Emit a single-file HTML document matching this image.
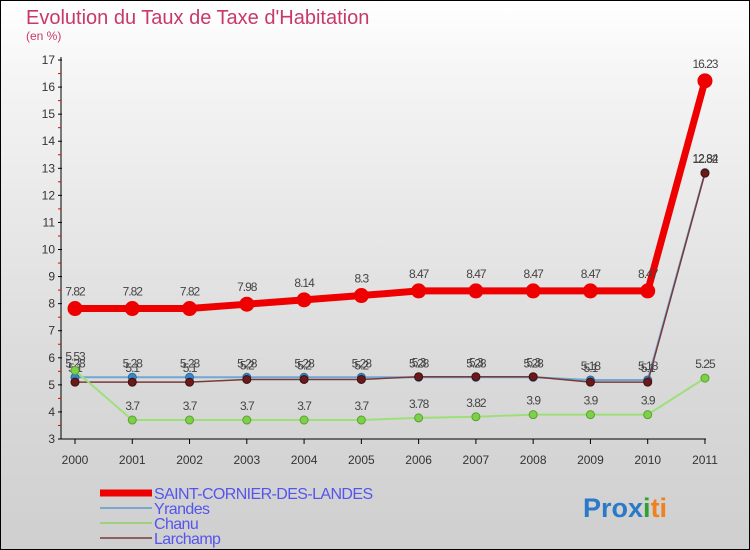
<!DOCTYPE html>
<html><head><meta charset="utf-8"><style>
body{margin:0;width:750px;height:550px;overflow:hidden;font-family:"Liberation Sans",sans-serif}
#wrap{position:absolute;left:0;top:0;width:748px;height:548px;border:1px solid #000;background:linear-gradient(#fff 0%,#f4f4f4 15%,#d9d9d9 70%,#cfcfcf 100%)}
</style></head><body>
<div id="wrap">
<svg id="svg" width="750" height="550" style="position:absolute;left:-1px;top:-1px">
<text x="26" y="24" font-size="20" fill="#c8386a">Evolution du Taux de Taxe d'Habitation</text>
<text x="26" y="40" font-size="12" fill="#c8386a">(en %)</text>
</svg>
</div>
<script>
const years=['2000','2001','2002','2003','2004','2005','2006','2007','2008','2009','2010','2011'];
const saint=[7.82,7.82,7.82,7.98,8.14,8.3,8.47,8.47,8.47,8.47,8.47,16.23];
const yrandes=[5.28,5.28,5.28,5.28,5.28,5.28,5.28,5.28,5.28,5.18,5.18,12.84];
const chanu=[5.53,3.7,3.7,3.7,3.7,3.7,3.78,3.82,3.9,3.9,3.9,5.25];
const larchamp=[5.1,5.1,5.1,5.2,5.2,5.2,5.3,5.3,5.3,5.1,5.1,12.82];
const yTicks=[3,4,5,6,7,8,9,10,11,12,13,14,15,16,17];
const NS='http://www.w3.org/2000/svg';
const svg=document.getElementById('svg');
const X=i=>75+i*57.27;
const Y=v=>439-(v-3)*27.07;
function mk(t,a,p){const e=document.createElementNS(NS,t);for(const k in a)e.setAttribute(k,a[k]);(p||svg).appendChild(e);return e;}
let ax=mk('g',{});


mk('line',{x1:61,y1:57,x2:61,y2:439,stroke:'#000'},ax);
mk('line',{x1:61,y1:439,x2:706,y2:439,stroke:'#000'},ax);
yTicks.forEach(v=>{
 mk('line',{x1:58,y1:Y(v),x2:62,y2:Y(v),stroke:'#000'},ax);
 if(v<17)mk('line',{x1:58,y1:Y(v+0.5),x2:61,y2:Y(v+0.5),stroke:'#e00'},ax);
 const t=mk('text',{x:55,y:Y(v)+4,'font-size':12,'text-anchor':'end',fill:'#333'},ax);t.textContent=v;
 
 
});
years.forEach((y,i)=>{
 mk('line',{x1:X(i),y1:439,x2:X(i),y2:444,stroke:'#000'},ax);
 const t=mk('text',{x:X(i),y:464,'font-size':12,'text-anchor':'middle',fill:'#333'},ax);t.textContent=y;
 
 
});
function series(name,data,color,w,r,fill,stroke){
 const g=mk('g',{});
 
 
 mk('polyline',{points:data.map((v,i)=>X(i)+','+Y(v)).join(' '),fill:'none',stroke:color,'stroke-width':w},g);
 data.forEach((v,i)=>{
  const c=mk('circle',{cx:X(i),cy:Y(v),r:r,fill:fill,stroke:stroke,'stroke-width':1},g);
  
  
  const t=mk('text',{x:X(i),y:Y(v)-(r+6),'font-size':12,'text-anchor':'middle',fill:'#444','letter-spacing':'-1'},g);
  t.textContent=v;
  
  
 });
}
series('yrandes',yrandes,'#6fa8d8',2,4,'#3a88c8','#2a6aa0');
series('larchamp',larchamp,'#7a3a3a',1.5,4,'#6a1a1a','#401010');
series('chanu',chanu,'#9de07a',2,4,'#7ed04a','#5aa030');
series('saint',saint,'#ee0000',7,7,'#ee0000','#ee0000');
const leg=[['SAINT-CORNIER-DES-LANDES','#ee0000',7],['Yrandes','#7aa8cc',2],['Chanu','#9ed080',2],['Larchamp','#8a6060',2]];
leg.forEach((l,i)=>{
 const g=mk('g',{});
 
 
 const y=493+i*15;
 mk('line',{x1:100,y1:y,x2:152,y2:y,stroke:l[1],'stroke-width':l[2]},g);
 const t=mk('text',{x:154,y:y+6,'font-size':16,fill:'#5555ee','letter-spacing':'-0.6'},g);t.textContent=l[0];
});
const lg=mk('text',{x:583,y:517,'font-size':27,'font-weight':'bold'});


[['Pro','#2a7ac8'],['x','#2a7ac8'],['i','#30a030'],['ti','#f08020']].forEach(p=>{const s=mk('tspan',{fill:p[1]},lg);s.textContent=p[0];});
</script>
</body></html>
